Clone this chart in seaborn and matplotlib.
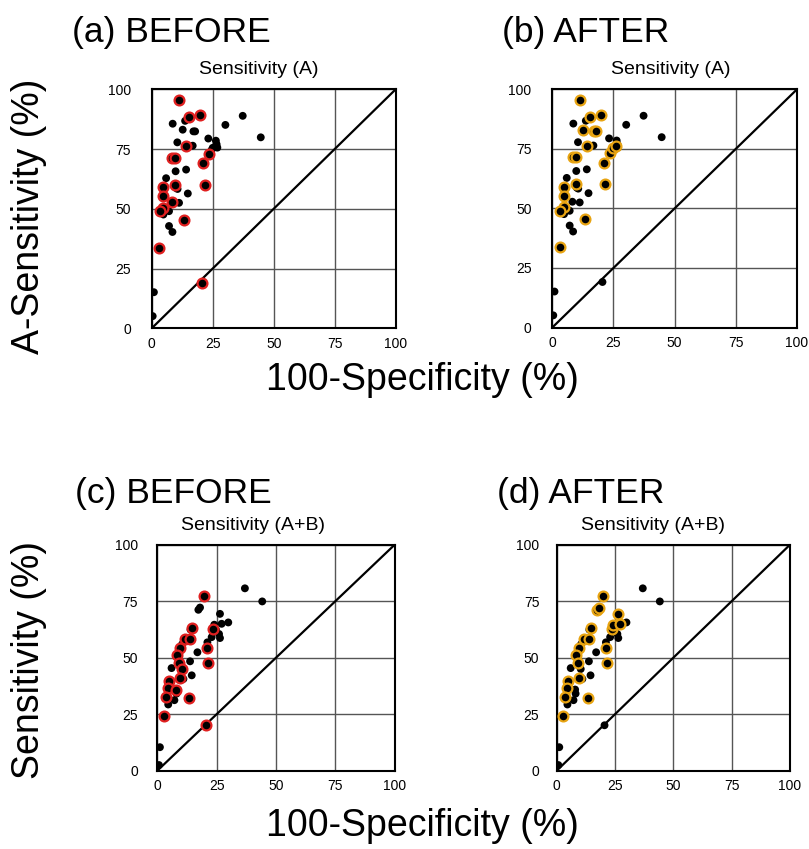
import numpy as np
import pandas as pd
import seaborn as sns
import matplotlib.pyplot as plt

# Sensitivity (A): 100-specificity, sensitivity, highlighted before / after
a_fpr = [11.3, 15.3, 19.8, 14.1, 8.5, 9.6, 21.2, 23.6, 9.5, 21.7, 4.8, 4.8, 8.2, 4.6, 3.2,
         13.4, 3.0, 20.5, 12.7, 17.1, 17.8, 25.0, 26.0,
         8.6, 13.7, 30.2, 37.3, 44.7, 23.2, 26.3, 26.6, 26.9, 10.5, 16.8, 24.5, 9.8, 14.1,
         5.9, 10.0, 10.6, 14.8, 11.2, 3.8, 4.8, 7.1, 7.1, 8.5, 0.9, 0.4]
a_sens = [95.6, 88.5, 89.3, 76.4, 71.4, 71.4, 69.2, 73.1, 60.1, 60.1, 59.0, 55.3, 52.8, 50.4, 49.1,
          45.5, 33.6, 19.1, 83.1, 82.4, 82.4, 75.5, 76.0,
          85.6, 86.8, 85.1, 88.9, 79.9, 79.4, 78.5, 77.0, 75.6, 77.8, 76.4, 74.5, 65.7, 66.4,
          62.8, 58.7, 58.3, 56.4, 52.5, 48.4, 47.6, 49.0, 42.8, 40.3, 15.1, 5.1]
a_before = [1] * 18 + [0] * 31
a_after = [1] * 12 + [0] + [1] * 4 + [0] + [1] * 5 + [0] * 26

# Sensitivity (A+B)
ab_fpr = [19.8, 14.6, 11.7, 13.8, 23.6, 21.1, 9.6, 8.4, 9.1, 10.3, 21.5, 9.6, 4.9, 4.6, 7.9,
          3.7, 13.3, 2.9, 20.5, 17.3, 18.0, 26.4, 24.0, 27.1,
          36.9, 44.2, 29.9, 24.7, 22.9, 26.4, 21.1, 14.0, 16.9, 6.0, 13.8, 11.0, 14.5, 8.1,
          7.2, 4.6, 1.1, 0.7, 10.5, 26.0]
ab_sens = [77.1, 63.1, 58.2, 58.2, 62.6, 54.3, 54.3, 51.3, 47.6, 45.0, 47.6, 41.0, 39.6, 36.6, 35.9,
           32.6, 32.2, 24.1, 20.1, 71.2, 72.2, 69.4, 64.6, 65.0,
           80.7, 74.9, 65.6, 62.4, 59.1, 58.7, 56.8, 62.4, 52.4, 45.4, 48.4, 40.6, 42.2, 34.1,
           31.2, 29.3, 10.4, 2.5, 56.0, 60.5]
ab_before = [1] * 19 + [0] * 25
ab_after = [1] * 9 + [0] + [1] * 4 + [0] + [1] * 3 + [0] + [1] * 5 + [0] * 20

ticks = [0, 25, 50, 75, 100]
tick_labels = ["0", "25", "50", "75", "100"]

sns.set_style("white")
plt.rcParams['font.family'] = ['Liberation Sans', 'DejaVu Sans']
plt.rcParams['text.color'] = 'black'

fig = plt.figure(figsize=(8.09, 8.49), dpi=100)
W, H = 809, 849


def box(l, t, r, b):
    return [l / W, 1 - b / H, (r - l) / W, (b - t) / H]


panels = [
    (box(151.7, 89.3, 395.7, 328.3), a_fpr, a_sens, a_before, "#e02020", "Sensitivity (A)", 259, 15),
    (box(552.3, 89.3, 797.0, 327.5), a_fpr, a_sens, a_after, "#e8a412", "Sensitivity (A)", 671, 15),
    (box(157.3, 544.7, 394.7, 770.7), ab_fpr, ab_sens, ab_before, "#e02020", "Sensitivity (A+B)", 253, 14),
    (box(556.7, 544.7, 790.0, 770.7), ab_fpr, ab_sens, ab_after, "#e8a412", "Sensitivity (A+B)", 653, 12.5),
]

for rect, fpr, sens, hl, col, title, tx, ypad in panels:
    ax = fig.add_axes(rect)
    df = pd.DataFrame({"x": fpr, "y": sens, "hl": hl})
    ax.axline((0, 0), slope=1, color="black", lw=1.6, zorder=2)
    sns.scatterplot(data=df[df.hl == 0], x="x", y="y", color="black", s=32,
                    edgecolor="none", ax=ax, zorder=3)
    sns.scatterplot(data=df[df.hl == 1], x="x", y="y", color="black", s=50,
                    edgecolor=col, linewidth=1.6, ax=ax, zorder=4)
    ax.set_xlim(0, 100)
    ax.set_ylim(0, 100)
    ax.set_xticks(ticks)
    ax.set_yticks(ticks)
    ax.set_xticklabels(tick_labels)
    ax.set_yticklabels(tick_labels)
    ax.tick_params(axis="both", length=0, labelsize=10, colors="black")
    ax.tick_params(axis="y", pad=ypad)
    ax.tick_params(axis="x", pad=6)
    ax.grid(True, color="#555555", lw=1)
    ax.set_axisbelow(True)
    for sp in ax.spines.values():
        sp.set_color("black")
        sp.set_linewidth(1.5)
    ax.set_xlabel("")
    ax.set_ylabel("")
    top_px = (1 - rect[1] - rect[3]) * H
    fig.text(tx / W, 1 - (top_px - 11) / H, title, ha="center", va="bottom", fontsize=14)

fig.text(72 / W, 1 - 42 / H, "(a) BEFORE", fontsize=25.5, va="baseline")
fig.text(502 / W, 1 - 42 / H, "(b) AFTER", fontsize=25.5, va="baseline")
fig.text(75 / W, 1 - 503 / H, "(c) BEFORE", fontsize=25.5, va="baseline")
fig.text(497 / W, 1 - 503 / H, "(d) AFTER", fontsize=25.5, va="baseline")

fig.text(29 / W, 1 - 216 / H, "A-Sensitivity (%)", rotation=90, ha="center", va="center", fontsize=27)
fig.text(29 / W, 1 - 660 / H, "Sensitivity (%)", rotation=90, ha="center", va="center", fontsize=27)
fig.text(422 / W, 1 - 380 / H, "100-Specificity (%)", ha="center", va="center", fontsize=27)
fig.text(422 / W, 1 - 826 / H, "100-Specificity (%)", ha="center", va="center", fontsize=27)

fig.savefig("out.png", dpi=100)
